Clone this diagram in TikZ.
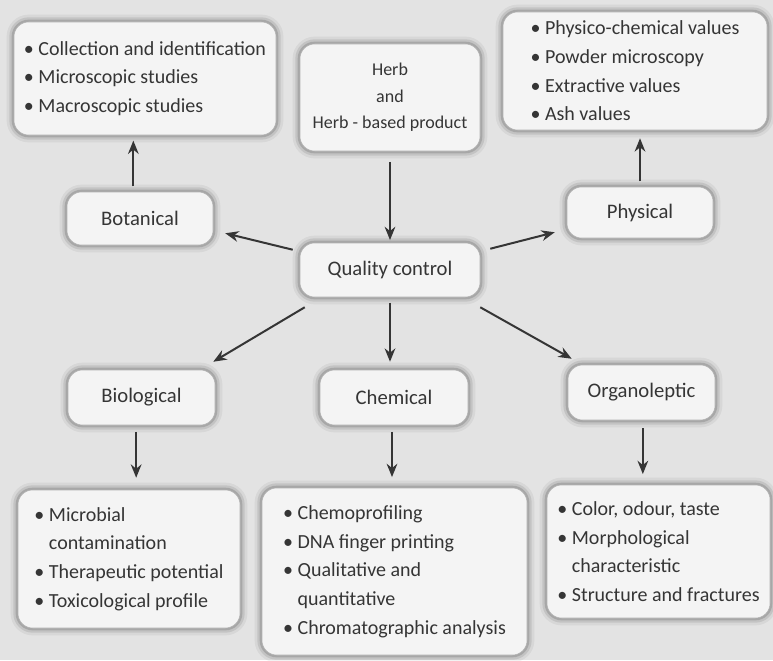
\documentclass[tikz,border=0pt]{standalone}
\usepackage{fontspec}
\setmainfont{Carlito}
\usetikzlibrary{arrows.meta}

\definecolor{paper}{HTML}{E3E3E3}
\definecolor{boxfill}{HTML}{F4F4F4}
\definecolor{ink}{HTML}{353535}

\newcommand{\itm}{\textbullet\ }
\newcommand{\hang}{\hphantom{\textbullet\ }}

\tikzset{
  box/.style={rectangle, rounded corners=11pt, fill=boxfill, draw=gray!60, line width=0.4pt,
    preaction={draw=black, draw opacity=0.05, line width=11pt},
    preaction={draw=black, draw opacity=0.09, line width=7pt},
    preaction={draw=black, draw opacity=0.14, line width=3.5pt},
    text=ink, font=\fontsize{15.5}{22}\selectfont, inner sep=0pt},
  listbox/.style={box, align=left, font=\fontsize{15}{21.5}\selectfont},
  arr/.style={-{Stealth[length=10pt,width=8pt]}, draw=ink, line width=1.5pt},
}

\begin{document}
\begin{tikzpicture}[x=0.75pt,y=-0.75pt]
  \useasboundingbox[fill=paper] (0,0) rectangle (773,660);

  % top row
  \node[listbox, minimum width=196.5pt, minimum height=84.75pt] (botlist) at (145,78.5)
    {\itm Collection and identification\\ \itm Microscopic studies\\ \itm Macroscopic studies};
  \node[box, align=center, font=\fontsize{13.5}{20}\selectfont, minimum width=135pt, minimum height=80.25pt] (herb) at (390,97.5)
    {Herb\\and\\Herb - based product};
  \node[listbox, minimum width=198pt, minimum height=88.5pt] (phylist) at (635,71)
    {\itm Physico-chemical values\\ \itm Powder microscopy\\ \itm Extractive values\\ \itm Ash values};

  % middle
  \node[box, minimum width=109.5pt, minimum height=39.75pt] (bot) at (140,218.5) {Botanical};
  \node[box, minimum width=109.5pt, minimum height=38.25pt] (phy) at (640,212.5) {Physical};
  \node[box, minimum width=135pt, minimum height=40.5pt] (qc) at (390,270) {Quality control};

  \node[box, minimum width=110.25pt, minimum height=41.25pt] (bio) at (141.5,397.5) {Biological};
  \node[box, minimum width=111pt, minimum height=41.25pt] (chem) at (394,397.5) {Chemical};
  \node[box, minimum width=110.25pt, minimum height=41.25pt] (org) at (641.5,392.5) {Organoleptic};

  % bottom row
  \node[listbox, minimum width=166.5pt, minimum height=103.5pt] (biolist) at (129,559)
    {\itm Microbial\\ \hang contamination\\ \itm Therapeutic potential\\ \itm Toxicological profile};
  \node[listbox, minimum width=198.75pt, minimum height=125.25pt] (chemlist) at (394.5,571.5)
    {\itm Chemoprofiling\\ \itm DNA finger printing\\ \itm Qualitative and\\ \hang quantitative\\ \itm Chromatographic analysis};
  \node[listbox, minimum width=167.25pt, minimum height=99.75pt] (orglist) at (658.5,551.5)
    {\itm Color, odour, taste\\ \itm Morphological\\ \hang characteristic\\ \itm Structure and fractures};

  % arrows
  \draw[arr, shorten <=8pt, shorten >=2pt] (herb) -- (qc);
  \draw[arr] ([shift={(-7,7)}]qc.north west) -- ([shift={(12,-12)}]bot.south east);
  \draw[arr] ([shift={(10,6)}]qc.north east) -- ([shift={(-12,-6)}]phy.south west);
  \draw[arr] ([shift={(5,10)}]qc.south west) -- ([shift={(-2,-8)}]bio.north east);
  \draw[arr] ([shift={(0,10)}]qc.south east) -- ([shift={(4,-6)}]org.north west);
  \draw[arr, shorten <=4pt, shorten >=6pt] (qc.south) -- (qc.south |- chem.north);

  \draw[arr, shorten <=4pt, shorten >=4pt] ([xshift=-5pt]bot.north) -- ([xshift=-5pt]bot.north |- botlist.south);
  \draw[arr, shorten <=4pt, shorten >=6pt] (phy.north) -- (phy.north |- phylist.south);
  \draw[arr, shorten <=5pt, shorten >=9pt] ([xshift=-4pt]bio.south) -- ([xshift=-4pt]bio.south |- biolist.north);
  \draw[arr, shorten <=5pt, shorten >=8pt] ([xshift=-1.5pt]chem.south) -- ([xshift=-1.5pt]chem.south |- chemlist.north);
  \draw[arr, shorten <=6pt, shorten >=8pt] ([xshift=1pt]org.south) -- ([xshift=1pt]org.south |- orglist.north);
\end{tikzpicture}
\end{document}
